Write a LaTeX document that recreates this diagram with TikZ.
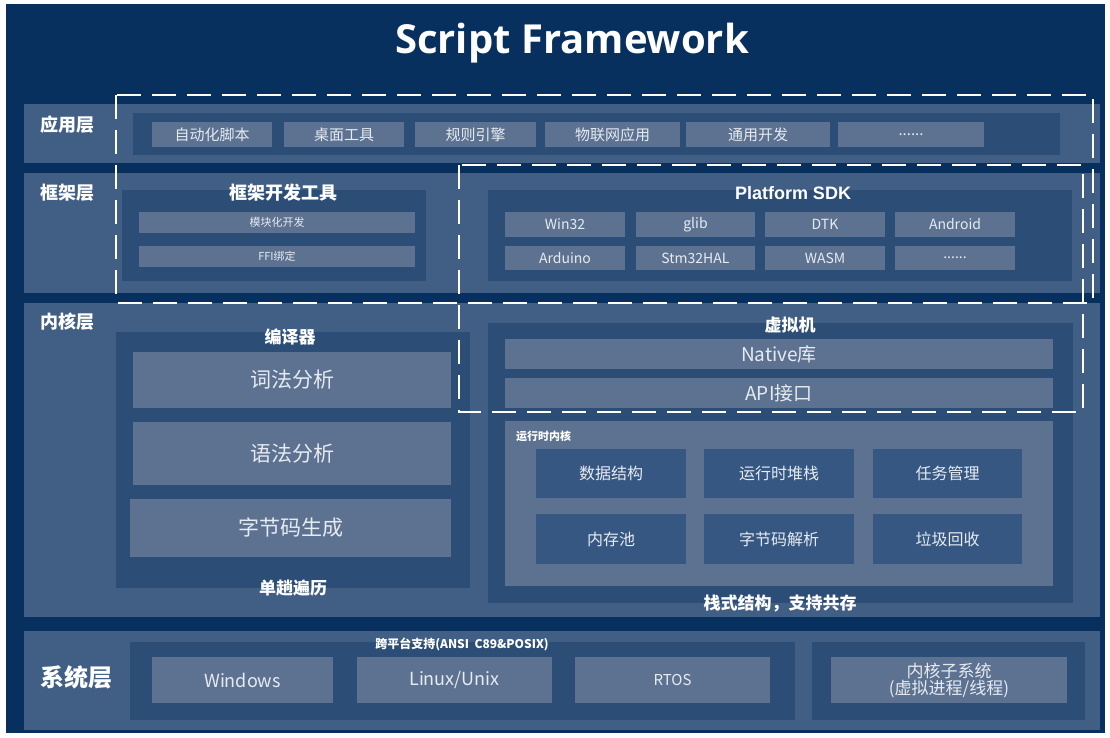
\documentclass[tikz,border=0pt]{standalone}
\usepackage{fontspec}
\setmainfont{Noto Sans CJK SC}
\newfontfamily\titlefont{Open Sans}
\newfontfamily\arialfont{Liberation Sans}
\definecolor{navy}{HTML}{08305E}
\definecolor{layerc}{HTML}{415F84}
\definecolor{innerc}{HTML}{2C4E76}
\definecolor{itemc}{HTML}{5D7290}
\definecolor{rtitem}{HTML}{365781}
\definecolor{txtc}{HTML}{E6EBF2}
\newcommand\fs[1]{\fontsize{#1}{#1}\selectfont}
\newcommand\bx[7]{\node[#6, minimum width={(#4-#2)*1pt}, minimum height={(#5-#3)*1pt}] (#1) at ({(#2+#4)/2},{(#3+#5)/2}) {#7};}
\tikzset{
  basebox/.style={rectangle, inner sep=0pt, outer sep=0pt, draw=none, anchor=center, align=center},
  layer/.style={basebox, fill=layerc},
  inner/.style={basebox, fill=innerc},
  item/.style={basebox, fill=itemc, text=txtc},
  rti/.style={basebox, fill=rtitem, text=txtc},
  lbl/.style={text=white, inner sep=0pt, font=\bfseries\fs{#1}},
  dashbox/.style={draw=white, line width=2.8pt, dash pattern=on 24pt off 11pt},
}
\begin{document}
\begin{tikzpicture}[x=1pt,y=-1pt]
\useasboundingbox (0,0) rectangle (1110,738);
\fill[white] (0,0) rectangle (1110,738);
\fill[navy] (6,4) rectangle (1105,733);
\node[text=white, font=\titlefont\bfseries\fs{40}] (title) at (572,43) {Script Framework};

% ---------- application layer
\bx{app}{24}{104}{1100}{163}{layer}{}
\node[lbl=18] (appl) at (67,125) {应用层};
\bx{appin}{133}{113}{1060}{155}{inner}{}
\bx{a1}{152}{122}{272}{147}{item, font=\fs{15}}{自动化脚本}
\bx{a2}{284}{122}{404}{147}{item, font=\fs{15}}{桌面工具}
\bx{a3}{415}{122}{536}{147}{item, font=\fs{15}}{规则引擎}
\bx{a4}{545}{122}{680}{147}{item, font=\fs{15}}{物联网应用}
\bx{a5}{686}{122}{830}{147}{item, font=\fs{15}}{通用开发}
\bx{a6}{838}{122}{984}{147}{item, font=\fs{15}}{......}

% ---------- framework layer
\bx{fw}{24}{173}{1100}{293}{layer}{}
\node[lbl=18] (fwl) at (67,193) {框架层};
\bx{fwl1}{122}{190}{426}{281}{inner}{}
\node[lbl=18] (fwt) at (283,193) {框架开发工具};
\bx{f1}{139}{212}{415}{233}{item, font=\fs{11}}{模块化开发}
\bx{f2}{139}{246}{415}{267}{item, font=\fs{11}}{FFI绑定}
\bx{sdk}{488}{190}{1072}{281}{inner}{}
\node[text=white, inner sep=0pt, font=\arialfont\bfseries\fs{18}] (sdkt) at (793,193) {Platform SDK};
\bx{s1}{505}{212}{625}{237}{item, font=\fs{14}}{Win32}
\bx{s2}{636}{212}{755}{237}{item, font=\fs{14}}{glib}
\bx{s3}{765}{212}{885}{237}{item, font=\fs{14}}{DTK}
\bx{s4}{895}{212}{1015}{237}{item, font=\fs{14}}{Android}
\bx{s5}{505}{246}{625}{270}{item, font=\fs{14}}{Arduino}
\bx{s6}{636}{246}{755}{270}{item, font=\fs{14}}{Stm32HAL}
\bx{s7}{765}{246}{885}{270}{item, font=\fs{14}}{WASM}
\bx{s8}{895}{246}{1015}{270}{item, font=\fs{14}}{......}

% ---------- kernel layer
\bx{kr}{24}{303}{1100}{617}{layer}{}
\node[lbl=18] (krl) at (67,322) {内核层};
\bx{cmp}{116}{332}{470}{588}{inner}{}
\node[lbl=17] (cmpt) at (290,337) {编译器};
\bx{c1}{133}{352}{451}{408}{item, font=\fs{21}}{词法分析}
\bx{c2}{133}{422}{451}{485}{item, font=\fs{21}}{语法分析}
\bx{c3}{130}{499}{451}{557}{item, font=\fs{21}}{字节码生成}
\node[lbl=17] (cmpf) at (293,588) {单趟遍历};
\bx{vm}{488}{323}{1073}{603}{inner}{}
\node[lbl=17] (vmt) at (790,325) {虚拟机};
\bx{v1}{505}{339}{1053}{369}{item, font=\fs{19}}{Native库}
\bx{v2}{505}{378}{1053}{408}{item, font=\fs{19}}{API接口}
\bx{rt}{505}{421}{1053}{586}{basebox, fill=itemc}{}
\node[lbl=11, anchor=west] (rtl) at (516,436) {运行时内核};
\bx{r1}{536}{449}{686}{498}{rti, font=\fs{16}}{数据结构}
\bx{r2}{704}{449}{854}{498}{rti, font=\fs{16}}{运行时堆栈}
\bx{r3}{873}{449}{1022}{498}{rti, font=\fs{16}}{任务管理}
\bx{r4}{536}{514}{686}{564}{rti, font=\fs{16}}{内存池}
\bx{r5}{704}{514}{854}{564}{rti, font=\fs{16}}{字节码解析}
\bx{r6}{873}{514}{1022}{564}{rti, font=\fs{16}}{垃圾回收}
\node[lbl=17] (vmf) at (780,604) {栈式结构，支持共存};

% ---------- system layer
\bx{sys}{24}{631}{1100}{730}{layer}{}
\node[lbl=24] (sysl) at (76,677) {系统层};
\bx{xp}{130}{642}{795}{720}{inner}{}
\node[lbl=12] (xpt) at (462,644) {跨平台支持(ANSI\ \ C89\&POSIX)};
\bx{o1}{152}{657}{333}{703}{item, font=\fs{18}}{Windows}
\bx{o2}{357}{657}{552}{703}{item, font=\fs{18}}{Linux/Unix}
\bx{o3}{575}{657}{770}{703}{item, font=\fs{15}}{RTOS}
\bx{ks}{812}{642}{1085}{720}{inner}{}
\bx{k1}{831}{657}{1067}{703}{item, font=\fs{17}}{内核子系统\\(虚拟进程/线程)}

% ---------- dashed regions
\coordinate (d1a) at (116,95);
\coordinate (d1b) at (1093,303);
\coordinate (d2a) at (459,165);
\coordinate (d2b) at (1083,412);
\draw[dashbox] (d1a) rectangle (d1b);
\draw[dashbox] (d2a) rectangle (d2b);
\end{tikzpicture}
\end{document}
